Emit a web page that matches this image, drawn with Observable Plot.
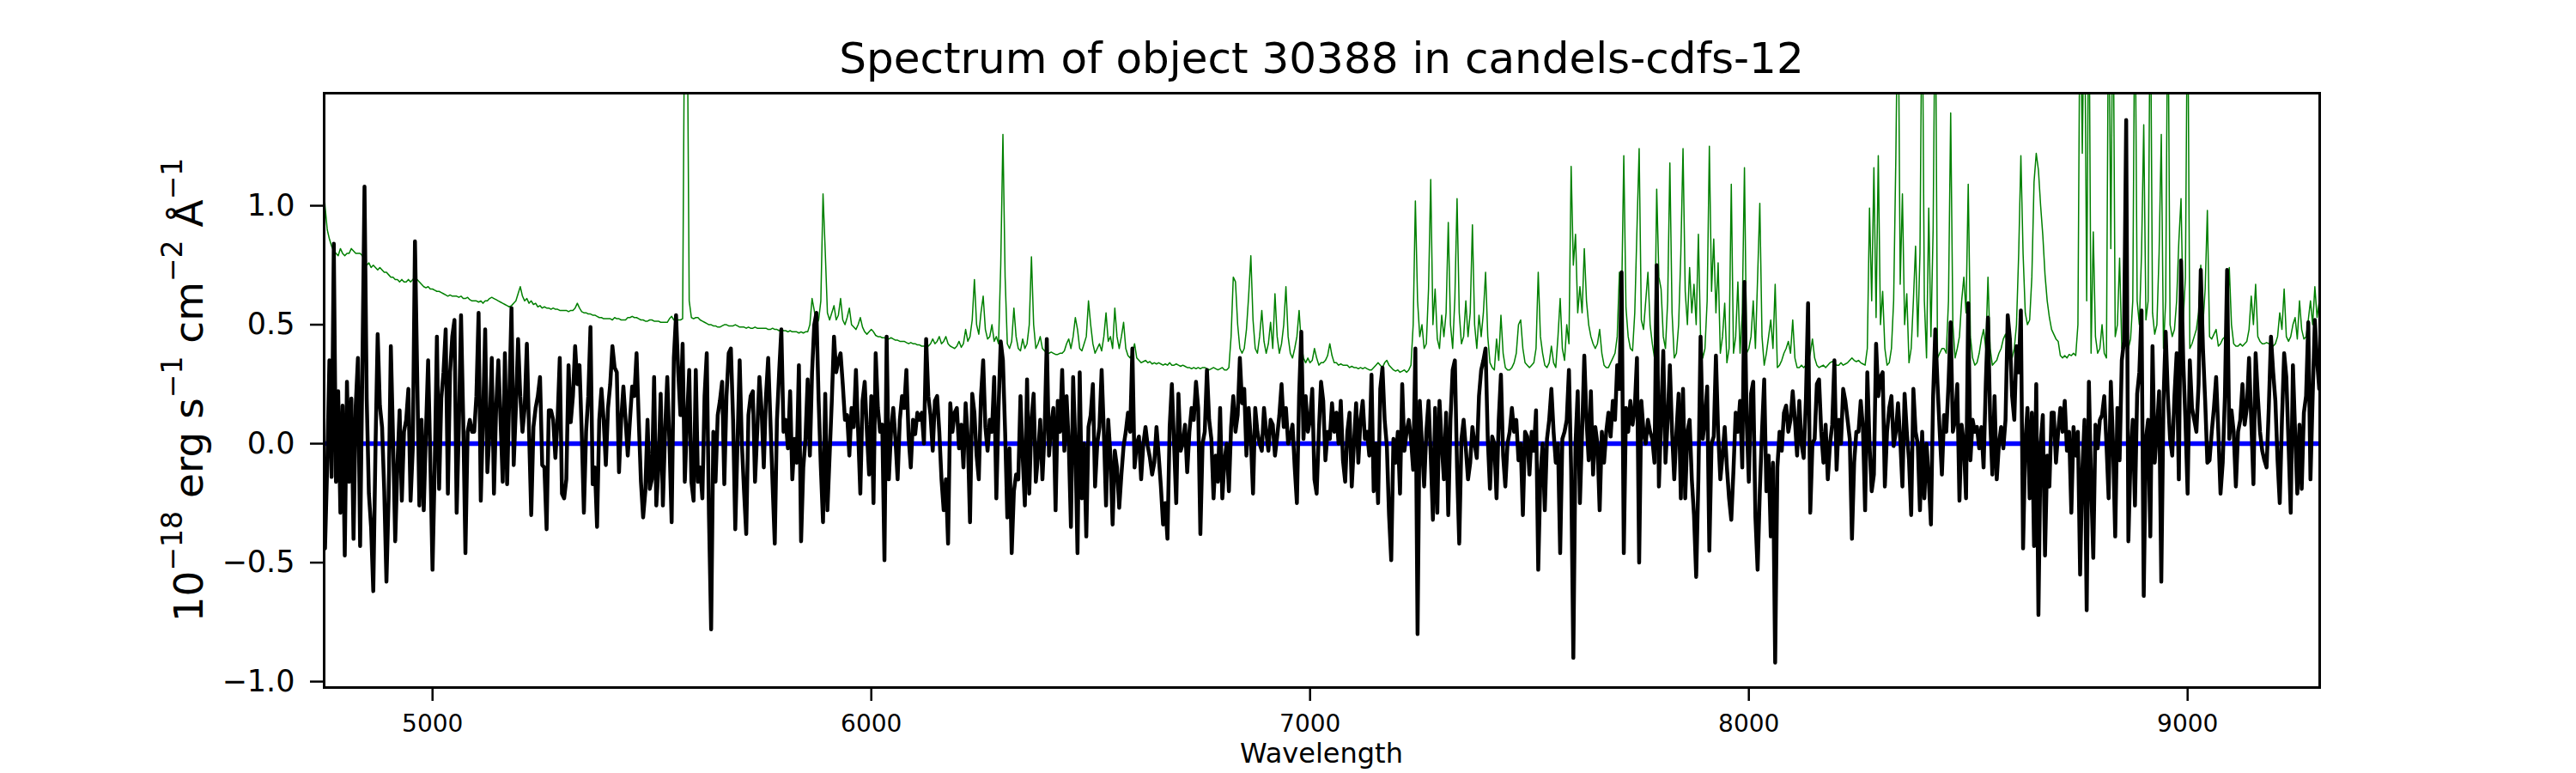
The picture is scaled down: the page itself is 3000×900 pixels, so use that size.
<!DOCTYPE html>
<html><head><meta charset="utf-8">
<script src="https://cdn.jsdelivr.net/npm/d3@7"></script>
<script src="https://cdn.jsdelivr.net/npm/@observablehq/plot@0.6"></script>
<style>body{margin:0;background:#fff;}</style>
</head><body><div id="chart"></div>
<script>
// Sampling grid (Angstrom) of the spectrum
const waveStart = 4750;
const waveStep = 5;

// Object flux (black), 10^-18 erg/s/cm2/A
const flux = [
-0.40,-0.44,-0.09,0.35,-0.14,0.84,-0.16,0.22,-0.29,0.16,
-0.47,0.26,-0.16,0.19,-0.40,0.16,0.36,-0.43,0.30,1.08,
0.19,-0.21,-0.35,-0.62,-0.02,0.46,0.16,0.07,-0.20,-0.58,
-0.22,0.41,0.02,-0.41,-0.09,0.14,-0.24,0.05,0.10,0.23,
-0.24,-0.02,0.85,0.30,-0.26,0.10,-0.28,0.05,0.35,-0.07,
-0.53,-0.10,0.45,-0.19,0.19,0.30,0.48,-0.21,0.30,0.45,
0.52,-0.29,0.07,0.54,0.10,-0.46,0.05,0.10,0.05,0.05,
0.20,0.55,-0.24,0.10,0.48,-0.12,0.05,0.36,-0.21,0.15,
0.35,0.10,-0.16,0.38,-0.17,0.20,0.57,-0.09,0.15,0.44,
0.20,0.05,0.15,0.42,0.05,-0.30,0.07,0.15,0.20,0.28,
-0.09,-0.10,-0.36,0.14,0.14,0.10,-0.06,0.10,0.36,-0.21,
-0.23,-0.15,0.33,0.09,0.20,0.41,0.25,0.33,0.05,-0.29,
0.05,0.20,0.49,-0.17,-0.10,-0.35,0.10,0.23,0.10,-0.09,
0.15,0.25,0.41,0.32,0.30,-0.12,0.10,0.24,0.10,-0.05,
0.10,0.24,0.20,0.38,0.10,-0.16,-0.31,-0.20,0.10,-0.19,
-0.15,0.28,-0.26,-0.10,0.21,-0.26,0.05,0.28,0.00,-0.33,
0.36,0.54,0.30,0.12,0.42,-0.16,0.10,0.31,-0.16,-0.24,
0.31,-0.16,-0.10,-0.23,0.20,0.38,-0.30,-0.78,0.05,-0.16,
0.12,0.18,0.26,-0.17,0.20,0.38,0.40,0.10,-0.36,0.00,
0.35,0.00,-0.20,-0.38,0.12,0.20,0.22,-0.16,0.05,0.28,
0.14,-0.10,0.20,0.36,0.10,-0.17,-0.42,0.10,0.30,0.48,
0.05,0.10,-0.02,0.22,-0.15,0.02,-0.08,0.33,-0.41,-0.10,
0.02,0.27,-0.05,0.30,0.50,0.55,0.18,-0.10,-0.33,0.21,
-0.28,-0.05,0.18,0.45,0.30,0.35,0.38,0.25,0.10,0.12,
-0.05,0.15,0.07,0.31,0.05,-0.21,0.18,0.26,0.05,-0.13,
0.20,-0.25,0.38,0.15,0.05,0.08,-0.49,0.45,-0.15,0.05,
0.15,0.02,-0.15,0.10,0.20,0.15,0.31,0.03,-0.10,0.10,
0.04,0.13,0.10,0.13,0.00,0.44,0.20,0.12,-0.03,0.18,
0.20,0.05,-0.15,-0.28,-0.15,-0.42,0.17,0.05,0.13,0.15,
-0.02,0.08,-0.10,0.17,0.02,-0.33,0.21,0.13,-0.05,-0.15,
0.20,0.35,0.07,-0.03,0.10,0.05,0.28,-0.23,0.15,0.43,
0.35,0.05,-0.31,-0.02,-0.46,-0.20,-0.13,-0.15,0.20,-0.05,
-0.26,0.27,-0.21,0.10,0.21,-0.16,-0.05,0.10,-0.15,0.05,
0.44,-0.05,0.08,0.15,-0.28,0.18,0.05,0.31,-0.03,0.20,
0.00,-0.35,0.28,0.00,-0.46,0.30,-0.23,0.00,-0.39,0.07,
0.12,0.25,-0.18,0.00,0.07,0.31,0.05,-0.26,0.10,-0.05,
-0.34,-0.03,-0.10,-0.27,-0.13,-0.01,0.05,0.13,0.05,0.40,
-0.10,0.00,0.03,-0.15,0.00,0.07,-0.01,-0.06,-0.13,-0.08,
0.07,-0.05,-0.18,-0.34,-0.25,-0.40,0.07,0.25,0.00,-0.25,
0.21,-0.03,0.00,0.08,-0.12,0.05,0.15,0.10,0.26,0.15,
-0.38,0.00,0.05,0.31,0.10,0.02,-0.23,-0.05,-0.16,0.15,
-0.23,-0.07,0.00,-0.20,0.07,0.20,0.05,0.12,0.36,0.17,
0.23,-0.05,0.15,0.02,-0.21,0.15,0.05,0.00,-0.03,0.15,
0.05,-0.03,0.10,0.08,-0.05,0.03,0.12,0.25,0.07,0.15,
0.00,0.03,0.08,-0.10,-0.25,0.20,0.47,0.02,0.20,0.05,
0.10,0.23,-0.15,-0.21,0.05,0.26,0.18,-0.07,0.05,0.02,
0.17,0.05,0.13,0.00,0.18,-0.07,-0.16,0.05,0.13,-0.18,
0.00,0.17,-0.08,0.10,0.18,0.02,0.05,-0.05,0.29,-0.20,
0.00,-0.25,0.23,0.32,0.10,-0.01,-0.30,-0.49,0.02,-0.08,
0.05,-0.21,0.25,-0.03,0.05,0.10,0.02,-0.11,0.40,-0.80,
0.18,0.00,-0.18,0.05,0.18,-0.05,-0.32,0.15,-0.29,0.18,
0.00,-0.15,0.13,-0.30,0.10,0.31,0.35,-0.10,-0.42,0.02,
0.10,-0.02,-0.15,-0.08,0.07,0.00,-0.06,0.20,0.31,0.35,
0.40,0.02,-0.19,0.03,0.00,-0.23,0.10,0.29,-0.05,-0.18,
0.00,0.05,0.15,0.05,0.10,-0.07,0.00,-0.30,0.05,0.03,
-0.13,0.05,-0.03,0.14,-0.53,-0.13,0.00,-0.28,0.02,0.10,
0.23,0.05,-0.08,0.00,-0.46,0.02,0.05,0.10,0.31,-0.11,
-0.90,0.00,0.22,-0.25,0.05,0.37,0.10,-0.07,0.22,-0.13,
0.07,0.00,-0.28,0.05,-0.08,0.05,0.13,0.03,0.18,0.10,
0.33,0.23,0.72,-0.46,0.15,0.05,0.18,0.08,0.15,0.36,
-0.50,0.18,0.05,0.00,0.10,0.05,0.02,-0.08,0.75,-0.18,
0.10,0.39,-0.08,0.10,0.33,0.05,-0.15,0.05,0.21,-0.23,
0.23,-0.23,0.05,0.10,-0.15,-0.30,-0.56,-0.15,0.45,0.02,
0.10,0.24,-0.45,0.00,0.03,0.37,0.05,-0.15,-0.05,0.07,
-0.10,-0.23,-0.32,-0.11,0.13,0.05,0.18,-0.10,0.68,0.10,
-0.16,0.21,0.26,-0.31,-0.53,-0.20,0.05,0.27,-0.20,-0.05,
-0.39,-0.08,-0.92,-0.10,0.05,-0.03,0.13,0.16,0.05,0.10,
0.22,0.10,-0.05,0.18,0.00,-0.06,0.18,0.59,-0.29,0.00,
0.02,0.25,0.27,0.05,-0.08,0.08,-0.15,0.00,0.08,0.35,
-0.11,0.10,0.00,0.23,0.18,0.10,0.02,-0.40,-0.08,0.05,
0.05,0.18,0.07,-0.28,0.30,0.00,-0.20,-0.13,0.42,0.20,
0.28,0.30,-0.18,0.05,0.15,0.20,-0.01,0.05,0.17,0.02,
-0.18,0.21,0.05,-0.07,-0.30,0.23,0.05,0.00,-0.28,0.05,
-0.23,0.00,-0.15,-0.34,0.20,0.48,0.25,0.05,-0.13,0.12,
0.05,0.25,0.51,0.05,0.10,0.25,-0.24,0.08,0.00,-0.23,
0.59,-0.07,0.10,0.05,0.07,-0.02,0.07,-0.10,0.25,0.53,
0.10,-0.13,0.20,-0.15,0.00,0.07,-0.02,0.10,0.54,0.44,
0.20,0.10,0.41,0.30,0.56,-0.44,0.00,0.15,-0.23,0.13,
-0.43,0.25,-0.72,0.00,0.12,-0.47,-0.05,-0.18,0.13,0.13,
-0.08,0.05,0.15,0.05,0.18,-0.03,0.05,-0.29,0.07,-0.05,
0.05,-0.55,-0.11,0.10,-0.70,0.26,-0.16,-0.48,0.08,-0.02,
0.10,0.12,0.20,0.00,-0.23,0.26,0.00,-0.39,0.15,-0.07,
0.35,0.43,1.36,-0.41,-0.05,0.10,-0.26,0.21,0.30,0.56,
-0.64,0.02,0.10,-0.39,0.41,-0.08,0.05,0.22,-0.58,0.18,
0.47,0.20,0.02,-0.05,0.20,0.38,-0.15,0.77,0.35,0.10,
-0.21,0.35,0.15,0.10,0.05,0.25,0.73,0.40,0.18,-0.08,
-0.07,0.05,0.15,0.28,0.05,-0.21,-0.08,0.20,0.73,0.02,
0.14,0.05,-0.18,0.05,0.10,0.25,0.08,0.15,0.36,0.10,
-0.17,0.38,0.20,0.05,-0.03,-0.07,-0.10,0.15,0.45,0.30,
0.18,-0.07,-0.25,0.10,0.38,0.28,0.00,-0.29,0.33,0.05,
-0.21,0.08,-0.19,0.13,0.20,0.51,-0.15,0.20,0.52,0.35,
0.23
];

// Error / sky spectrum (green)
const sky = [
1.17,1.00,0.90,0.86,0.83,0.81,0.80,0.79,0.82,0.80,
0.79,0.80,0.80,0.82,0.81,0.80,0.80,0.80,0.79,0.77,
0.75,0.76,0.74,0.75,0.74,0.73,0.74,0.73,0.72,0.72,
0.71,0.70,0.70,0.69,0.69,0.68,0.69,0.68,0.68,0.69,
0.68,0.69,0.70,0.69,0.68,0.67,0.66,0.655,0.66,0.65,
0.65,0.645,0.64,0.64,0.635,0.63,0.625,0.62,0.625,0.62,
0.62,0.62,0.615,0.62,0.61,0.61,0.615,0.605,0.60,0.60,
0.60,0.595,0.60,0.59,0.60,0.60,0.61,0.615,0.61,0.605,
0.60,0.595,0.59,0.585,0.58,0.575,0.58,0.59,0.60,0.63,
0.66,0.62,0.60,0.61,0.59,0.60,0.585,0.59,0.575,0.58,
0.57,0.575,0.57,0.57,0.565,0.57,0.565,0.565,0.56,0.56,
0.56,0.56,0.555,0.56,0.56,0.57,0.59,0.57,0.555,0.55,
0.55,0.545,0.545,0.54,0.54,0.535,0.53,0.53,0.525,0.525,
0.525,0.525,0.52,0.53,0.525,0.525,0.52,0.52,0.52,0.53,
0.53,0.535,0.53,0.53,0.525,0.52,0.52,0.515,0.515,0.52,
0.52,0.515,0.515,0.515,0.51,0.51,0.51,0.51,0.525,0.535,
0.52,0.52,0.52,0.52,0.525,2.0,2.0,0.60,0.53,0.525,
0.53,0.53,0.52,0.515,0.51,0.505,0.50,0.50,0.495,0.495,
0.49,0.49,0.495,0.50,0.50,0.495,0.495,0.495,0.50,0.495,
0.49,0.49,0.49,0.485,0.49,0.485,0.485,0.49,0.485,0.485,
0.485,0.485,0.485,0.48,0.48,0.485,0.48,0.48,0.475,0.48,
0.475,0.475,0.47,0.475,0.47,0.47,0.47,0.465,0.47,0.465,
0.47,0.47,0.50,0.61,0.56,0.50,0.52,0.60,1.05,0.81,
0.55,0.52,0.55,0.58,0.52,0.54,0.61,0.52,0.50,0.53,
0.57,0.50,0.49,0.48,0.50,0.53,0.49,0.47,0.46,0.47,
0.48,0.47,0.455,0.45,0.45,0.445,0.445,0.44,0.44,0.445,
0.44,0.435,0.435,0.43,0.43,0.43,0.425,0.42,0.425,0.42,
0.42,0.415,0.415,0.41,0.41,0.41,0.41,0.42,0.44,0.42,
0.43,0.45,0.42,0.43,0.45,0.42,0.41,0.405,0.40,0.41,
0.43,0.405,0.42,0.48,0.43,0.45,0.52,0.69,0.50,0.46,
0.55,0.62,0.48,0.44,0.45,0.50,0.43,0.45,0.42,0.75,
1.30,0.70,0.42,0.40,0.43,0.57,0.45,0.40,0.39,0.44,
0.40,0.42,0.50,0.785,0.50,0.40,0.42,0.45,0.40,0.39,
0.38,0.38,0.385,0.38,0.375,0.375,0.38,0.38,0.39,0.42,
0.44,0.40,0.45,0.53,0.48,0.40,0.39,0.42,0.45,0.60,
0.50,0.42,0.38,0.40,0.42,0.39,0.45,0.55,0.43,0.45,
0.40,0.57,0.45,0.40,0.45,0.51,0.40,0.37,0.36,0.38,
0.42,0.36,0.35,0.34,0.345,0.35,0.34,0.345,0.335,0.34,
0.335,0.34,0.335,0.33,0.335,0.33,0.34,0.33,0.33,0.335,
0.33,0.325,0.33,0.325,0.32,0.32,0.315,0.32,0.315,0.32,
0.315,0.32,0.32,0.315,0.31,0.315,0.32,0.315,0.31,0.315,
0.32,0.31,0.31,0.32,0.45,0.70,0.68,0.50,0.40,0.38,
0.40,0.48,0.62,0.79,0.52,0.40,0.38,0.45,0.56,0.43,
0.38,0.42,0.51,0.40,0.63,0.45,0.38,0.42,0.50,0.66,
0.45,0.38,0.36,0.40,0.45,0.56,0.42,0.36,0.34,0.36,
0.34,0.35,0.40,0.36,0.33,0.34,0.34,0.35,0.37,0.42,
0.37,0.34,0.34,0.33,0.335,0.33,0.33,0.33,0.32,0.325,
0.32,0.32,0.315,0.32,0.315,0.32,0.315,0.31,0.31,0.32,
0.33,0.34,0.33,0.32,0.34,0.35,0.33,0.32,0.31,0.305,
0.31,0.30,0.305,0.31,0.30,0.31,0.33,0.50,1.02,0.60,
0.45,0.50,0.40,0.42,0.65,1.11,0.50,0.65,0.44,0.40,
0.54,0.45,0.55,0.93,0.50,0.40,0.61,1.03,0.55,0.42,
0.45,0.60,0.45,0.55,0.92,0.50,0.40,0.54,0.45,0.55,
0.72,0.45,0.34,0.32,0.31,0.44,0.35,0.54,0.38,0.32,
0.31,0.31,0.32,0.34,0.38,0.50,0.52,0.40,0.34,0.33,
0.32,0.33,0.34,0.40,0.72,0.45,0.38,0.33,0.32,0.34,
0.41,0.34,0.32,0.45,0.61,0.40,0.35,0.50,0.42,1.165,
0.75,0.88,0.55,0.66,0.55,0.82,0.60,0.50,0.45,0.42,
0.40,0.42,0.48,0.38,0.33,0.32,0.32,0.34,0.36,0.38,
0.45,0.72,0.60,1.21,0.57,0.45,0.40,0.39,0.55,0.90,
1.24,0.52,0.48,0.60,0.72,0.50,0.42,0.36,1.07,0.70,
0.65,0.45,0.40,0.60,1.18,0.55,0.36,0.38,0.50,0.80,
1.24,0.64,0.50,0.74,0.55,0.67,0.50,0.88,0.45,0.36,
0.40,0.60,1.25,0.64,0.86,0.55,0.76,0.38,0.45,0.59,
0.34,0.40,1.09,0.38,0.45,0.68,0.38,0.55,1.16,0.38,
0.40,0.45,0.60,0.40,0.70,1.01,0.45,0.33,0.38,0.45,
0.52,0.40,0.67,0.32,0.33,0.35,0.38,0.40,0.43,0.38,
0.52,0.36,0.32,0.32,0.33,0.32,0.33,0.34,0.38,0.44,
0.36,0.33,0.32,0.325,0.33,0.32,0.33,0.34,0.345,0.34,
0.33,0.33,0.34,0.33,0.335,0.34,0.35,0.36,0.35,0.345,
0.35,0.34,0.335,0.33,0.40,0.99,0.60,1.16,0.53,1.21,
0.50,0.64,0.40,0.33,0.34,0.40,0.60,1.20,2.0,0.67,
1.05,0.50,0.63,0.34,0.40,0.60,0.83,0.45,0.80,2.0,
0.60,0.36,0.99,0.45,0.90,2.0,0.36,0.38,0.40,0.40,
0.38,0.60,1.39,0.50,0.36,0.40,0.45,0.60,0.70,0.55,
1.09,0.45,0.36,0.33,0.34,0.38,0.44,0.48,0.40,0.70,
0.40,0.33,0.34,0.35,0.38,0.40,0.44,0.46,0.40,0.38,
0.36,0.40,0.50,0.80,1.21,0.80,0.55,0.50,0.52,0.70,
1.10,1.22,1.15,1.00,0.875,0.71,0.60,0.53,0.48,0.46,
0.44,0.43,0.37,0.36,0.37,0.36,0.375,0.37,0.38,0.37,
0.50,2.0,1.22,2.0,0.60,2.0,0.38,0.89,0.45,0.38,
0.40,0.50,0.38,0.36,2.0,0.82,2.0,0.45,0.50,0.78,
0.40,0.40,0.42,0.40,0.44,0.60,2.0,0.60,0.50,0.80,
1.34,0.52,0.60,2.0,0.55,0.46,0.50,0.80,1.30,0.40,
0.60,2.0,0.50,0.45,0.48,0.60,0.85,1.03,0.52,0.70,
2.0,0.40,0.42,0.45,0.48,0.55,0.75,0.50,0.65,0.98,
0.45,0.44,0.46,0.48,0.41,0.42,0.44,0.45,0.50,0.74,
0.50,0.42,0.41,0.41,0.42,0.41,0.42,0.43,0.48,0.62,
0.50,0.67,0.45,0.43,0.42,0.42,0.425,0.42,0.42,0.41,
0.42,0.45,0.55,0.48,0.65,0.45,0.43,0.45,0.50,0.53,
0.44,0.60,0.48,0.44,0.45,0.52,0.60,0.50,0.66,0.53,
0.60
];

const zeroLevel = [0];
const xTicks = [5000, 6000, 7000, 8000, 9000];
const yTicks = [-1.0, -0.5, 0.0, 0.5, 1.0];
const xDomain = [4753, 9301];
const yDomain = [-1.025, 1.473];
const titleText = "Spectrum of object 30388 in candels-cdfs-12";
const xLabelText = "Wavelength";
const yLabelParts = [["10", false], ["\u221218", true], [" erg s", false], ["\u22121", true], [" cm", false], ["\u22122", true], [" \u00C5", false], ["\u22121", true]];

const fluxData = flux.map((f, i) => ({w: waveStart + waveStep * i, f}));
const skyData = sky.map((f, i) => ({w: waveStart + waveStep * i, f}));

const W = 3000, H = 900, mL = 377, mR = 299, mT = 108, mB = 100;
const FONT = "DejaVu Sans";

const svgEl = Plot.plot({
  width: W, height: H,
  marginLeft: mL, marginRight: mR, marginTop: mT, marginBottom: mB,
  style: {fontFamily: FONT, background: "white", color: "black", overflow: "visible"},
  x: {domain: xDomain},
  y: {domain: yDomain},
  marks: [
    Plot.line(skyData, {x: "w", y: "f", stroke: "#008000", strokeWidth: 1.5, clip: true}),
    Plot.ruleY(zeroLevel, {stroke: "#0000ff", strokeWidth: 5.5}),
    Plot.line(fluxData, {x: "w", y: "f", stroke: "black", strokeWidth: 4.5, clip: true}),
    Plot.frame({stroke: "black", strokeWidth: 3}),
    Plot.axisX({ticks: xTicks, tickFormat: d => String(d), fontSize: 28, tickSize: 16, tickPadding: 16, strokeWidth: 2.5, label: null}),
    Plot.axisY({ticks: yTicks, tickFormat: d3.format(".1f"), fontSize: 35, tickSize: 16, tickPadding: 18, strokeWidth: 2.5, label: null})
  ]
});
document.getElementById("chart").appendChild(svgEl);

const svg = d3.select(svgEl);
const cx = mL + (W - mL - mR) / 2;
const cy = mT + (H - mT - mB) / 2;

svg.append("text")
  .attr("x", cx).attr("y", 85)
  .attr("text-anchor", "middle")
  .attr("font-family", FONT).attr("font-size", 50).attr("fill", "black")
  .text(titleText);

svg.append("text")
  .attr("x", cx).attr("y", 888)
  .attr("text-anchor", "middle")
  .attr("font-family", FONT).attr("font-size", 32).attr("fill", "black")
  .text(xLabelText);

const yl = svg.append("text")
  .attr("transform", `translate(236,${cy}) rotate(-90)`)
  .attr("text-anchor", "middle")
  .attr("font-family", FONT).attr("font-size", 47).attr("fill", "black");
let up = false;
for (const [s, sup] of yLabelParts) {
  const t = yl.append("tspan").text(s);
  if (sup && !up) { t.attr("dy", -24); up = true; }
  else if (!sup && up) { t.attr("dy", 24); up = false; }
  t.attr("font-size", sup ? 33 : 47);
}
</script>
</body></html>
